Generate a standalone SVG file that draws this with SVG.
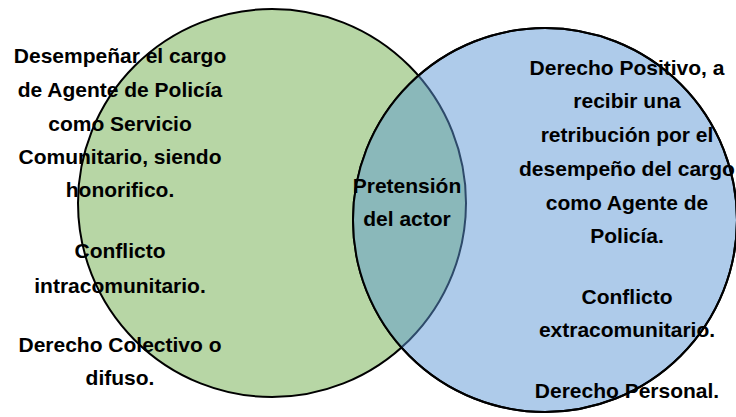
<svg xmlns="http://www.w3.org/2000/svg" width="736" height="417" viewBox="0 0 736 417">
<style>
.t{font-family:"Liberation Sans",Arial,sans-serif;font-weight:bold;font-size:21px;fill:#000;text-anchor:middle}
</style>
<defs>
<clipPath id="blueClip"><circle cx="545" cy="220" r="192"/></clipPath>
</defs>
<rect width="736" height="417" fill="#ffffff"/>
<g id="set-left">
<circle cx="272" cy="203" r="194" fill="#b7d6a5" stroke="#000" stroke-width="2"/>
</g>
<g id="set-right">
<circle cx="545" cy="220" r="192" fill="#aecbea" stroke="#000" stroke-width="2"/>
</g>
<g id="intersection">
<circle cx="272" cy="203" r="194" fill="#8ab8ba" stroke="#2e4a6a" stroke-width="2" clip-path="url(#blueClip)"/>
<circle cx="545" cy="220" r="192" fill="none" stroke="#000" stroke-width="2"/>
</g>
<g id="connectors"></g>
<g id="text-left">
<text class="t" x="120" y="63">Desempeñar el cargo</text>
<text class="t" x="120" y="97">de Agente de Policía</text>
<text class="t" x="120" y="130.5">como Servicio</text>
<text class="t" x="120" y="164">Comunitario, siendo</text>
<text class="t" x="120" y="197">honorifico.</text>
<text class="t" x="120" y="258">Conflicto</text>
<text class="t" x="120" y="293">intracomunitario.</text>
<text class="t" x="120" y="352">Derecho Colectivo o</text>
<text class="t" x="120" y="385">difuso.</text>
</g>
<g id="text-center">
<text class="t" x="407" y="193">Pretensión</text>
<text class="t" x="407" y="226">del actor</text>
</g>
<g id="text-right">
<text class="t" x="627" y="75">Derecho Positivo, a</text>
<text class="t" x="627" y="108">recibir una</text>
<text class="t" x="627" y="142">retribución por el</text>
<text class="t" x="627" y="176">desempeño del cargo</text>
<text class="t" x="627" y="209.5">como Agente de</text>
<text class="t" x="627" y="243">Policía.</text>
<text class="t" x="627" y="304">Conflicto</text>
<text class="t" x="627" y="337">extracomunitario.</text>
<text class="t" x="627" y="398">Derecho Personal.</text>
</g>
</svg>
